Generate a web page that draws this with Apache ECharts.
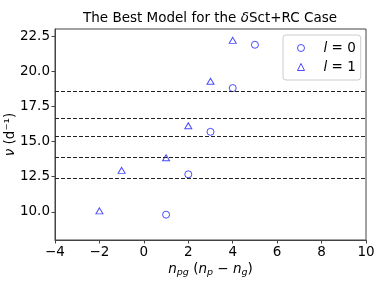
<!DOCTYPE html>
<html>
<head>
<meta charset="utf-8">
<script src="https://cdn.jsdelivr.net/npm/echarts@6/dist/echarts.min.js"></script>
<style>html,body{margin:0;padding:0;background:#fff}#c{width:390px;height:293px}</style>
</head>
<body>
<div id="c"></div>
<script>
// l = 0 modes (n_pg, frequency d^-1)
const l0X = [1, 2, 3, 4, 5];
const l0Y = [9.8, 12.67, 15.69, 18.8, 21.88];
// l = 1 modes
const l1X = [-2, -1, 1, 2, 3, 4];
const l1Y = [10.07, 12.95, 13.85, 16.12, 19.28, 22.19];
// observed frequencies (dashed lines)
const obsFreq = [18.57, 16.67, 15.39, 13.9, 12.38];
const yTicks = [10, 12.5, 15, 17.5, 20, 22.5];
const xTicks = [-4, -2, 0, 2, 4, 6, 8, 10];

const FONT = 'DejaVu Sans';
const blue = '#1f1fff';
const chart = echarts.init(document.getElementById('c'), null, {renderer: 'canvas'});
chart.setOption({
  animation: false,
  backgroundColor: '#fff',
  textStyle: {fontFamily: FONT},
  title: {
    text: 'The Best Model for the {i|δ}Sct+RC Case',
    left: 210, top: 11, textAlign: 'center', padding: 0,
    textStyle: {
      fontFamily: FONT, fontSize: 13.5, fontWeight: 'normal', color: '#000',
      rich: {i: {fontFamily: FONT, fontSize: 13.5, fontStyle: 'italic', color: '#000'}}
    }
  },
  grid: {left: 55, right: 24, top: 29, bottom: 53, show: true, borderColor: '#444', borderWidth: 1,
    backgroundColor: 'transparent', containLabel: false, outerBoundsMode: 'none'},
  legend: {
    orient: 'vertical', left: 283, top: 35,
    padding: [6, 5, 6, 14], itemGap: 5,
    itemWidth: 7, itemHeight: 7,
    borderColor: '#ccc', borderWidth: 1, borderRadius: 3,
    data: ['l0', 'l1'],
    itemStyle: {borderWidth: 1},
    formatter: function (n) { return '{i|l} = ' + (n === 'l0' ? '0' : '1'); },
    textStyle: {
      fontFamily: FONT, fontSize: 13.5, color: '#000', padding: [0, 0, 0, 14],
      rich: {i: {fontFamily: FONT, fontSize: 13.5, fontStyle: 'italic', color: '#000'}}
    }
  },
  xAxis: {
    type: 'value', min: -4, max: 10, interval: 2,
    name: '{i|n}{s|pg} ({i|n}{s|p} − {i|n}{s|g})',
    nameLocation: 'middle', nameGap: 20, nameMoveOverlap: false,
    nameTextStyle: {
      fontFamily: FONT, fontSize: 13.5, color: '#000', lineHeight: 18,
      rich: {
        i: {fontFamily: FONT, fontSize: 13.5, fontStyle: 'italic', color: '#000', lineHeight: 18},
        s: {fontFamily: FONT, fontSize: 9.5, fontStyle: 'italic', color: '#000', lineHeight: 16, verticalAlign: 'bottom'}
      }
    },
    axisLine: {show: true, onZero: false, lineStyle: {color: '#444', width: 1}},
    axisTick: {show: true, inside: false, length: 3.5, lineStyle: {color: '#444'}, customValues: xTicks},
    axisLabel: {fontFamily: FONT, fontSize: 13.5, color: '#000', margin: 5, customValues: xTicks,
      formatter: function (v) { return String(v).replace('-', '\u2212'); }},
    splitLine: {show: false}
  },
  yAxis: {
    type: 'value', min: 8, max: 23,
    name: '{i|ν} (d⁻¹)',
    nameLocation: 'middle', nameGap: 38, nameRotate: 90, nameMoveOverlap: false,
    nameTextStyle: {
      fontFamily: FONT, fontSize: 13.5, color: '#000',
      rich: {i: {fontFamily: FONT, fontSize: 13.5, fontStyle: 'italic', color: '#000'}}
    },
    axisLine: {show: true, onZero: false, lineStyle: {color: '#444', width: 1}},
    axisTick: {show: true, inside: false, length: 3.5, lineStyle: {color: '#444'}, customValues: yTicks},
    axisLabel: {fontFamily: FONT, fontSize: 13.5, color: '#000', margin: 5, customValues: yTicks,
      formatter: function (v) { return v.toFixed(1); }},
    splitLine: {show: false}
  },
  series: [
    {
      name: 'l0', type: 'scatter', symbol: 'circle', symbolSize: 7,
      data: l0X.map((x, i) => [x, l0Y[i]]),
      itemStyle: {color: 'rgba(0,0,0,0)', borderColor: blue, borderWidth: 1},
      z: 3,
      markLine: {
        silent: true, symbol: 'none', label: {show: false},
        lineStyle: {color: '#222', type: [4, 2], width: 1},
        data: obsFreq.map(v => ({yAxis: v}))
      }
    },
    {
      name: 'l1', type: 'scatter', symbol: 'triangle', symbolSize: [7, 6],
      data: l1X.map((x, i) => [x, l1Y[i]]),
      itemStyle: {color: 'rgba(0,0,0,0)', borderColor: blue, borderWidth: 1},
      z: 3
    }
  ]
});
</script>
</body>
</html>
